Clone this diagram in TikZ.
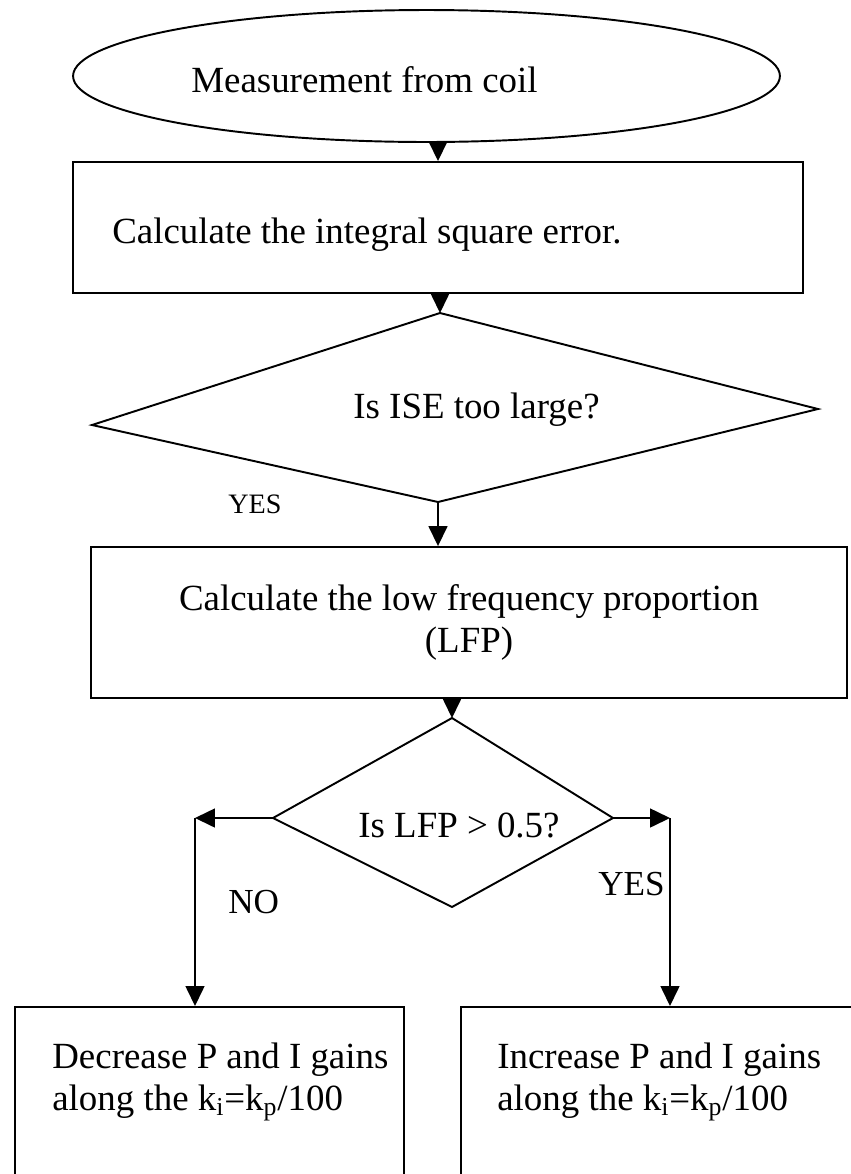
\documentclass[tikz,border=0pt]{standalone}
\usepackage{fontspec}
\setmainfont{Liberation Serif}
\usetikzlibrary{shapes.geometric, arrows.meta, positioning, calc}

\tikzset{
  flowline/.style={line width=1.1pt, line join=miter},
  arr/.style={line width=0.9pt, -{Triangle[length=0.4cm, width=0.38cm]}},
  boxshape/.style={draw, line width=1.1pt, rectangle, inner sep=0pt},
  startshape/.style={draw, line width=1.1pt, ellipse, inner sep=0pt},
  txt/.style={anchor=base west, inner sep=0pt, font=\fontsize{21}{23.5}\selectfont},
  yn/.style={anchor=base west, inner sep=0pt, font=\fontsize{20}{22}\selectfont},
}

\begin{document}
\begin{tikzpicture}[x=0.02cm, y=-0.02cm]
  \useasboundingbox (0,0) rectangle (851,1174);
  \clip (0,0) rectangle (851,1174);

  % start
  \node[startshape, minimum width=14.14cm, minimum height=2.64cm] (coil) at (426.5,76) {};
  \node[txt] (coiltxt) at (191,92) {Measurement from coil};

  % ISE
  \node[boxshape, minimum width=14.6cm, minimum height=2.62cm] (ise) at (438,227.5) {};
  \node[txt] (isetxt) at (112,243) {Calculate the integral square error.};
  \draw[arr] (coil.south -| ise.north) -- (ise.north);

  % first test
  \coordinate (q1t) at (440,313);
  \coordinate (q1l) at (92,425);
  \coordinate (q1r) at (818,409);
  \coordinate (q1b) at (438,502);
  \draw[flowline] (q1t) -- (q1r) -- (q1b) -- (q1l) -- cycle;
  \node[txt] (q1txt) at (353,418) {Is ISE too large?};
  \draw[arr] (ise.south -| q1t) -- (q1t);
  \node[yn, font=\fontsize{16}{18}\selectfont] (yes1) at (228,513) {YES};

  % LFP
  \node[boxshape, minimum width=15.12cm, minimum height=3.02cm, align=center,
        font=\fontsize{21}{23.5}\selectfont] (lfp) at (469,622.5)
        {Calculate the low frequency proportion\\(LFP)};
  \draw[arr] (q1b) -- (q1b |- lfp.north);

  % second test
  \coordinate (q2t) at (452,718);
  \coordinate (q2l) at (273,818);
  \coordinate (q2r) at (613,818);
  \coordinate (q2b) at (452,907);
  \draw[flowline] (q2t) -- (q2r) -- (q2b) -- (q2l) -- cycle;
  \node[txt] (q2txt) at (358,837) {Is LFP > 0.5?};
  \draw[arr] (lfp.south -| q2t) -- (q2t);

  % branches
  \coordinate (nobend) at (195,818);
  \coordinate (yesbend) at (670,818);
  \draw[arr] (q2l) -- (nobend);
  \draw[arr] (q2r) -- (yesbend);
  \node[yn] (notxt) at (228,913) {NO};
  \node[yn] (yestxt) at (598,895) {YES};

  % gain boxes
  \node[boxshape, anchor=north west, minimum width=7.78cm, minimum height=4cm] (dec) at (14,1006) {};
  \node[boxshape, anchor=north west, minimum width=8.2cm, minimum height=4cm] (inc) at (460,1006) {};
  \draw[arr] (nobend) -- (nobend |- dec.north);
  \draw[arr] (yesbend) -- (yesbend |- inc.north);
  \node[txt, anchor=north west, align=left] (dectxt) at (52,1043)
        {Decrease P and I gains\\along the k\textsubscript{i}=k\textsubscript{p}/100};
  \node[txt, anchor=north west, align=left] (inctxt) at (497,1043)
        {Increase P and I gains\\along the k\textsubscript{i}=k\textsubscript{p}/100};
\end{tikzpicture}
\end{document}
